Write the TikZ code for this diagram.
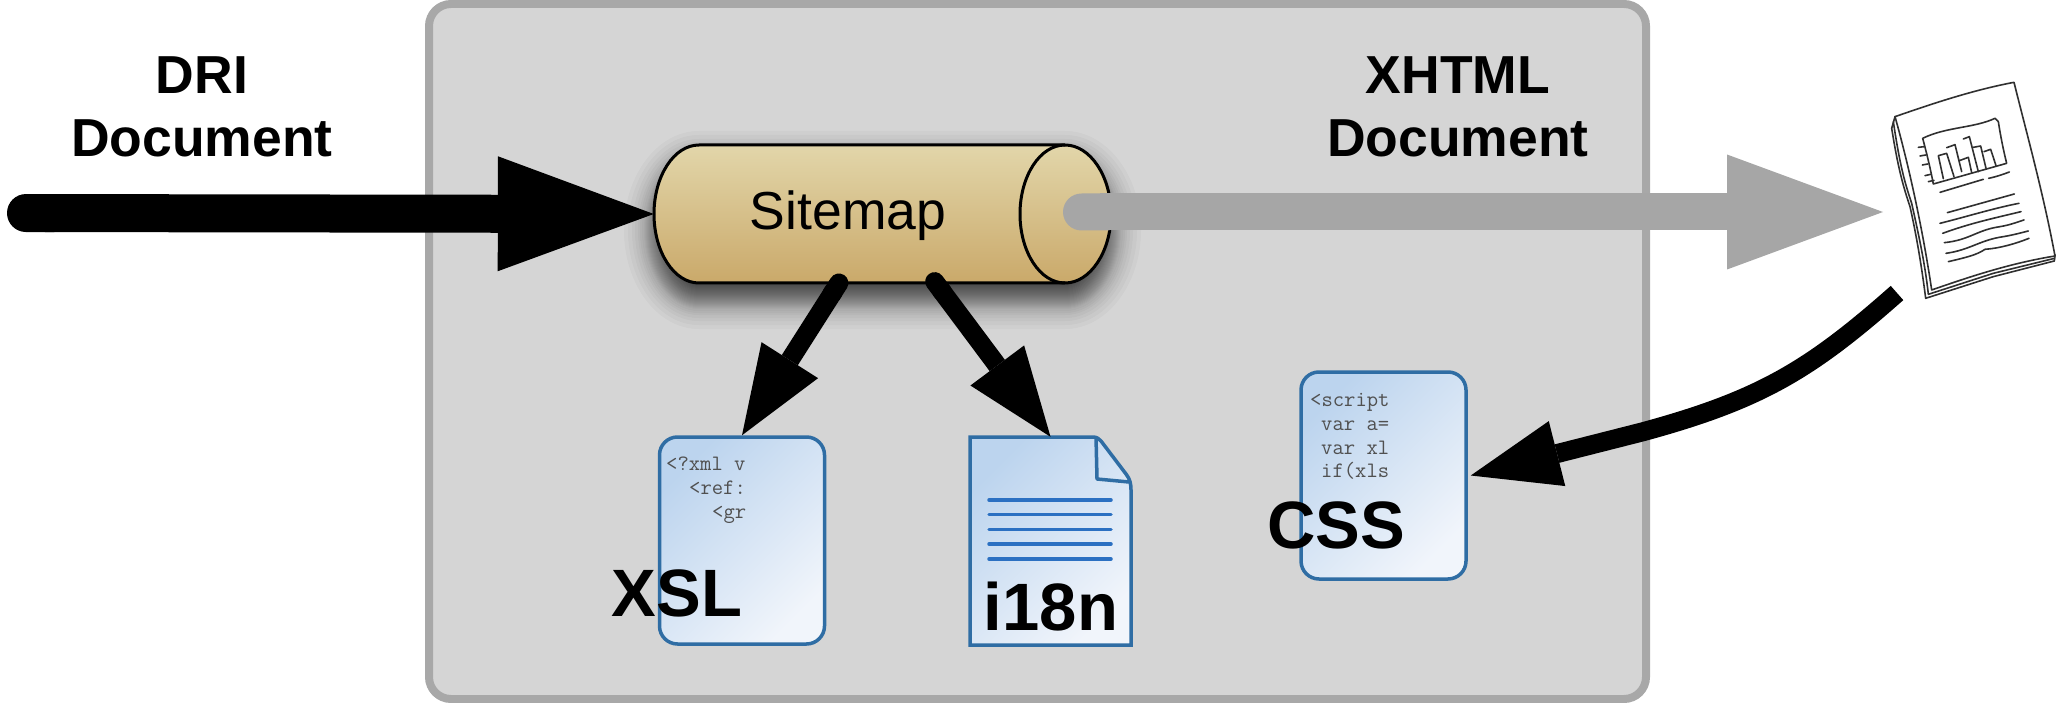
\documentclass[tikz,border=0pt]{standalone}
\usepackage{fontspec}
\setmainfont{Liberation Sans}
\usetikzlibrary{arrows.meta}
\definecolor{boxfill}{HTML}{D5D5D5}
\definecolor{boxline}{HTML}{A8A8A8}
\definecolor{grayarrow}{HTML}{A6A6A6}
\definecolor{cyltop}{HTML}{E2D6AA}
\definecolor{cylbot}{HTML}{CAA96A}
\definecolor{docline}{HTML}{2F6DA4}
\definecolor{doctop}{HTML}{BCD4EE}
\definecolor{docbot}{HTML}{F1F5FB}
\definecolor{rule}{HTML}{2B70C2}
\definecolor{code}{HTML}{505050}
\definecolor{sketch}{HTML}{303030}
\tikzset{
  bigarrow/.style={line width=38pt,{Round Cap[]}-{Triangle[length=156pt,width=115pt,sep=0pt,line width=0pt]}},
  smallarrow/.style={black,line width=19pt,{Round Cap[]}-{Triangle[length=89pt,width=67pt,sep=0pt,line width=0pt]}},
  curvearrow/.style={black,line width=19pt,-{Triangle[length=89pt,width=67pt,sep=0pt,line width=0pt]}},
  heading/.style={font=\fontsize{53.5}{63}\selectfont\bfseries,align=center,inner sep=0pt,text=black},
  doclabel/.style={font=\fontsize{67}{70}\selectfont\bfseries,anchor=base,inner sep=0pt,text=black},
  codetext/.style={font=\fontsize{22}{23.8}\selectfont\ttfamily,anchor=north west,align=left,inner sep=0pt,text=code},
  docbox/.style={draw=docline,line width=3.5pt,rounded corners=18pt,minimum width=165pt,minimum height=207pt,inner sep=0pt,
    top color=doctop,bottom color=docbot,shading angle=45},
  sketchline/.style={draw=sketch,line width=1.6pt,line cap=round,line join=round},
}
\newcommand{\cylshape}[1]{%
  (699,{145+16-#1}) -- (1065,{145+16-#1})
  .. controls ({1065+(45+#1)*.5523},{145+16-#1}) and ({1111+#1},{214+16-(69+#1)*.5523}) .. ({1111+#1},230)
  .. controls ({1111+#1},{214+16+(69+#1)*.5523}) and ({1065+(45+#1)*.5523},{283+16+#1}) .. (1065,{283+16+#1})
  -- (699,{283+16+#1})
  .. controls ({699-(45+#1)*.5523},{283+16+#1}) and ({654-#1},{214+16+(69+#1)*.5523}) .. ({654-#1},230)
  .. controls ({654-#1},{214+16-(69+#1)*.5523}) and ({699-(45+#1)*.5523},{145+16-#1}) .. (699,{145+16-#1}) -- cycle}
\begin{document}
\begin{tikzpicture}[x=1pt,y=-1pt]
\useasboundingbox (0,0) rectangle (2058,703);
% enclosing panel
\draw[draw=boxline,fill=boxfill,line width=8pt,rounded corners=22pt] (429,4) rectangle (1646,699);
% cylinder shadow
\foreach \r in {-15,-14,...,-3,-2,-1,0,1,2,3,4,5,6,7,8,9,10,12,14,16,19,22,26,30}{
  \fill[black,opacity=.026] \cylshape{\r};
}
% cylinder
\path[top color=cyltop,bottom color=cylbot] (699,145) -- (1065,145)
  .. controls (1090,145) and (1111,176) .. (1111,214)
  .. controls (1111,252) and (1090,283) .. (1065,283)
  -- (699,283)
  .. controls (674,283) and (654,252) .. (654,214)
  .. controls (654,176) and (674,145) .. (699,145) -- cycle;
\draw[black,line width=3pt] (699,145) -- (1065,145)
  .. controls (1090,145) and (1111,176) .. (1111,214)
  .. controls (1111,252) and (1090,283) .. (1065,283)
  -- (699,283)
  .. controls (674,283) and (654,252) .. (654,214)
  .. controls (654,176) and (674,145) .. (699,145) -- cycle;
\draw[black,line width=3pt] (1065,145) .. controls (1040,145) and (1020,176) .. (1020,214)
  .. controls (1020,252) and (1040,283) .. (1065,283);
\node[minimum width=457pt,minimum height=138pt,inner sep=0pt] (sitemap) at (882.5,214) {};
\node[font=\fontsize{53.5}{60}\selectfont,anchor=base,inner sep=0pt] (sitemaplabel) at (848,230) {Sitemap};
% headings
\node[heading] (dri) at (202,107) {DRI\\Document};
\node[heading] (xhtml) at (1458,107) {XHTML\\Document};
% documents
\node[docbox] (xsl) at (742,540.5) {};
\node[codetext] (xslcode) at (666,457) {<?xml v\\\hspace*{23pt}<ref:\\\hspace*{46pt}<gr};
\node[doclabel] (xsllabel) at (677,616) {XSL};
\node[docbox] (css) at (1383.5,475.5) {};
\node[codetext] (csscode) at (1310,393) {<script\\\hspace*{11pt}var a=\\\hspace*{11pt}var xl\\\hspace*{11pt}if(xls};
\node[doclabel] (csslabel) at (1336,548) {CSS};
% i18n page with folded corner
\node[minimum width=161pt,minimum height=208pt,inner sep=0pt] (i18n) at (1050.5,541) {};
\path[draw=docline,line width=3.5pt,line join=miter,top color=doctop,bottom color=docbot,shading angle=45]
  (970,437) -- (1093,437) .. controls (1097,437) and (1099,439) .. (1101,441)
  -- (1126,474) .. controls (1130,479) and (1131,484) .. (1131,490) -- (1131,645) -- (970,645) -- cycle;
\draw[docline,line width=3.5pt,line join=round] (1096,437) -- (1097,479) -- (1129,482);
\foreach \ry in {500,514.7,529.4,544,559}{
  \draw[rule,line width=3.5pt,line cap=round] (989,\ry) -- (1111,\ry);
}
\node[doclabel] (i18nlabel) at (1051,630) {i18n};
% report sketch
\coordinate (pagein) at (1883,212);
\coordinate (pageout) at (1897,293);
\begin{scope}[shift={(1860,60)},x=.3333pt,y=-.3333pt]
  \draw[sketchline,fill=white] (105,170) -- (95,205) .. controls (115,330) and (130,380) .. (150,440) .. controls (170,530) and (185,620) .. (197,715)
     -- (400,650) -- (583,603) -- (585,585) -- cycle;
  \draw[sketchline,fill=white] (100,185) .. controls (120,320) and (135,370) .. (155,430) .. controls (175,520) and (195,610) .. (205,703)
     -- (400,640) -- (584,595);
  \draw[sketchline,fill=white] (105,170) .. controls (220,130) and (340,90) .. (462,67)
     .. controls (500,220) and (550,400) .. (585,588) .. controls (450,610) and (330,650) .. (215,690)
     .. controls (190,520) and (150,330) .. (105,170) -- cycle;
  \draw[sketchline] (188,235) .. controls (260,200) and (340,205) .. (405,175) -- (415,185)
     .. controls (422,230) and (430,270) .. (440,310) -- (220,372) .. controls (210,320) and (200,280) .. (188,235) -- cycle;
  \foreach \ax/\ay/\bx/\by in {175/262/193/260,180/288/197/285,187/315/203/312,195/347/212/343,205/365/222/361}{
    \draw[sketchline] (\ax,\ay) -- (\bx,\by);
  }
  \draw[sketchline] (250,356) -- (235,287) -- (260,280) -- (282,350);
  \draw[sketchline] (260,263) -- (285,254) -- (305,335);
  \draw[sketchline] (298,302) -- (325,292) -- (335,338);
  \draw[sketchline] (310,237) -- (328,230) -- (355,335);
  \draw[sketchline] (340,262) -- (362,258) -- (378,325);
  \draw[sketchline] (372,275) -- (392,268) -- (408,317);
  \draw[sketchline] (240,397) -- (370,358);
  \draw[sketchline] (386,355) .. controls (410,350) and (430,343) .. (448,336);
  \draw[sketchline] (262,458) -- (463,402);
  \draw[sketchline] (240,490) .. controls (320,470) and (400,445) .. (477,430);
  \draw[sketchline] (248,520) .. controls (330,490) and (400,475) .. (483,455);
  \draw[sketchline] (253,548) .. controls (330,540) and (350,510) .. (420,500) .. controls (450,495) and (470,487) .. (492,480);
  \draw[sketchline] (258,580) .. controls (330,570) and (360,540) .. (430,530) .. controls (460,525) and (485,518) .. (505,513);
  \draw[sketchline] (265,605) .. controls (320,592) and (350,585) .. (375,568) .. controls (420,565) and (470,550) .. (507,535);
\end{scope}
% connectors
\coordinate (dristart) at (7,213);
\coordinate (grayout) at (1063,212);
\coordinate (xsltail) at (844,275);
\coordinate (i18ntail) at (929,274);
\draw[bigarrow,black] (dristart) -- (sitemap.west);
\draw[bigarrow,grayarrow,line width=37pt] (grayout) -- (pagein);
\draw[smallarrow] (xsltail) -- (xsl.north);
\draw[smallarrow] (i18ntail) -- (i18n.north);
\draw[curvearrow] (pageout) .. controls (1810,370) and (1760,400) .. (1642,432) -- ([xshift=3pt]css.east);
\end{tikzpicture}
\end{document}
